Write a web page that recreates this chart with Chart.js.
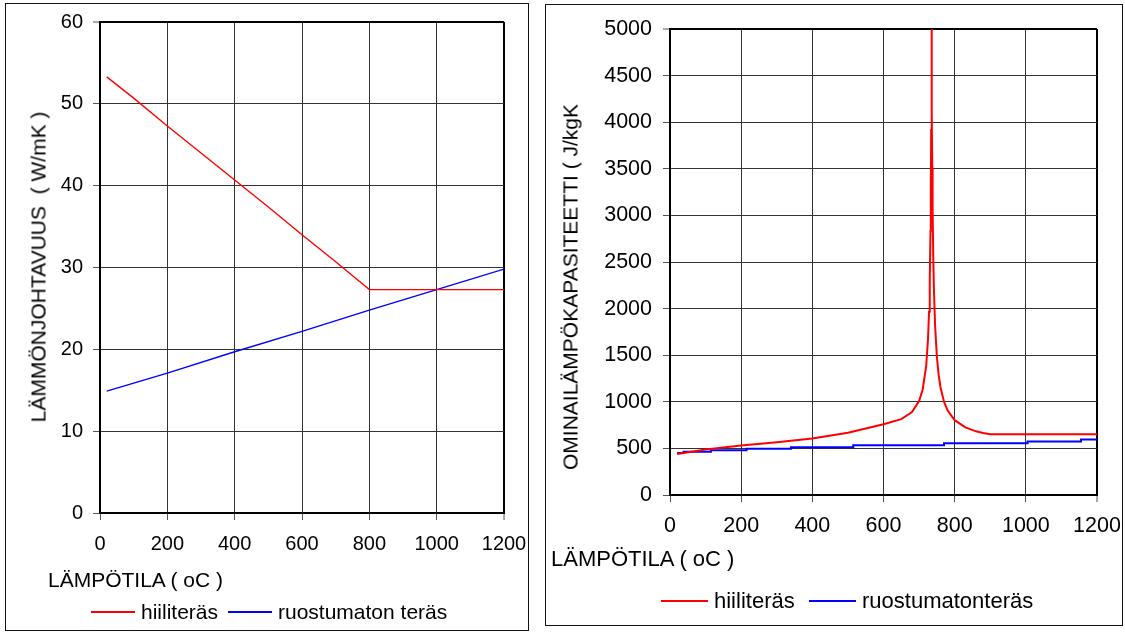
<!DOCTYPE html>
<html><head><meta charset="utf-8">
<script src="https://cdn.jsdelivr.net/npm/chart.js@4.4.1/dist/chart.umd.min.js"></script>
<style>
body{margin:0;background:#fff;width:1125px;height:632px;position:relative;overflow:hidden;font-family:"Liberation Sans",Arial,sans-serif;color:#000}
.panel{position:absolute;border:1px solid #111;box-sizing:border-box}
canvas{position:absolute}
.t{position:absolute;white-space:nowrap;line-height:1}
.rot{transform:translate(-50%,-50%) rotate(-90deg)}
.lg{position:absolute}
</style></head><body>
<div class="panel" style="left:5px;top:3px;width:524px;height:628px"></div>
<div class="panel" style="left:545px;top:4px;width:578px;height:622px"></div>
<canvas id="c1" width="540" height="632" style="left:0;top:0"></canvas>
<canvas id="c2" width="585" height="632" style="left:540px;top:0"></canvas>

<div class="t rot" style="left:38px;top:267px;font-size:21px">LÄMMÖNJOHTAVUUS&nbsp; ( W/mK )</div>
<div class="t" style="left:48px;top:569px;font-size:21px">LÄMPÖTILA ( oC )</div>
<div class="lg" style="left:91px;top:611px;width:44px;height:1.5px;background:#f00"></div>
<div class="t" style="left:141px;top:601px;font-size:21px">hiiliteräs</div>
<div class="lg" style="left:228px;top:611px;width:44px;height:1.5px;background:#00f"></div>
<div class="t" style="left:278px;top:601px;font-size:21px">ruostumaton teräs</div>

<div class="t rot" style="left:570px;top:287px;font-size:21px">OMINAILÄMPÖKAPASITEETTI ( J/kgK</div>
<div class="t" style="left:551px;top:548px;font-size:22px">LÄMPÖTILA ( oC )</div>
<div class="lg" style="left:661px;top:600px;width:47px;height:2px;background:#f00"></div>
<div class="t" style="left:714px;top:590px;font-size:22px">hiiliteräs</div>
<div class="lg" style="left:809px;top:600px;width:47px;height:2px;background:#00f"></div>
<div class="t" style="left:862px;top:590px;font-size:22px">ruostumatonteräs</div>

<script>
// ---- Chart 1: thermal conductivity (W/mK) ----
const condTempCarbon = [20, 100, 200, 300, 400, 500, 600, 700, 800, 1200];
const condCarbon     = [53.3, 50.7, 47.3, 44.0, 40.7, 37.4, 34.0, 30.7, 27.3, 27.3];
const condTempStainless = [20, 200, 400, 600, 800, 1000, 1200];
const condStainless     = [14.9, 17.1, 19.7, 22.2, 24.8, 27.3, 29.8];
const condXTicks = [0, 200, 400, 600, 800, 1000, 1200];
const condYTicks = [0, 10, 20, 30, 40, 50, 60];

// ---- Chart 2: specific heat (J/kgK) ----
const heatTempCarbon = [20, 100, 200, 300, 400, 500, 600, 650, 680, 700, 710, 720, 725, 728, 730, 732, 733, 734, 735, 736, 737, 738, 740, 742, 745, 750, 755, 760, 770, 780, 800, 830, 860, 880, 900, 1200];
const heatCarbon     = [440, 488, 530, 565, 606, 667, 760, 814, 890, 1008, 1130, 1388, 1666, 1966, 2291, 2833, 3266, 3916, 5000, 4100, 3515, 3091, 2525, 2165, 1818, 1483, 1288, 1159, 1002, 909, 803, 725, 683, 665, 652, 652];
const heatTempStainless = [20, 38, 115, 215, 340, 515, 770, 1005, 1155, 1200];
const heatStainless     = [450, 465, 480, 497, 512, 535, 555, 573, 595, 595];
const heatXTicks = [0, 200, 400, 600, 800, 1000, 1200];
const heatYTicks = [0, 500, 1000, 1500, 2000, 2500, 3000, 3500, 4000, 4500, 5000];

const FONT = '"Liberation Sans", Arial, sans-serif';
const pts = (xs, ys) => xs.map((x, i) => ({x, y: ys[i]}));

function makeChart(id, cfg) {
  const xMax = cfg.xTicks[cfg.xTicks.length - 1];
  const yMax = cfg.yTicks[cfg.yTicks.length - 1];
  const gridW = (c, max) => (c.tick && c.tick.value === max ? 2 : 1);
  const gridC = (c, max) => (c.tick && c.tick.value === max ? '#000' : '#333');
  return new Chart(document.getElementById(id), {
    type: 'line',
    data: { datasets: cfg.datasets },
    options: {
      responsive: false, animation: false, devicePixelRatio: 1,
      layout: { padding: cfg.padding },
      plugins: { legend: { display: false }, tooltip: { enabled: false } },
      elements: { point: { radius: 0 }, line: { tension: 0 } },
      scales: {
        x: {
          type: 'linear', min: 0, max: xMax,
          afterBuildTicks: s => { s.ticks = cfg.xTicks.map(v => ({value: v})); },
          afterFit: s => { s.height = cfg.xAxisH; s.paddingLeft = 0; s.paddingRight = 0; },
          ticks: { callback: v => String(v), color: '#000', font: {family: FONT, size: cfg.tickSize}, padding: cfg.xPad, maxRotation: 0 },
          grid: { color: c => gridC(c, xMax), lineWidth: c => gridW(c, xMax), tickLength: 7, tickColor: '#555', tickWidth: 1 },
          border: { color: '#000', width: 2 }
        },
        y: {
          type: 'linear', min: 0, max: yMax,
          afterBuildTicks: s => { s.ticks = cfg.yTicks.map(v => ({value: v})); },
          afterFit: s => { s.width = cfg.yAxisW; s.paddingTop = 0; s.paddingBottom = 0; },
          ticks: { callback: v => String(v), color: '#000', font: {family: FONT, size: cfg.tickSize}, padding: cfg.yPad },
          grid: { color: c => gridC(c, yMax), lineWidth: c => gridW(c, yMax), tickLength: 7, tickColor: '#555', tickWidth: 1 },
          border: { color: '#000', width: 2 }
        }
      }
    }
  });
}

makeChart('c1', {
  xTicks: condXTicks, yTicks: condYTicks,
  padding: {left: 0, top: 22, right: 36, bottom: 0},
  xAxisH: 119, yAxisW: 100, tickSize: 20, xPad: 12, yPad: 10,
  datasets: [
    {label: 'hiiliteräs', data: pts(condTempCarbon, condCarbon), borderColor: '#ff0000', borderWidth: 1.4},
    {label: 'ruostumaton teräs', data: pts(condTempStainless, condStainless), borderColor: '#0000ff', borderWidth: 1.4}
  ]
});

makeChart('c2', {
  xTicks: heatXTicks, yTicks: heatYTicks,
  padding: {left: 0, top: 29, right: 28, bottom: 0},
  xAxisH: 137, yAxisW: 130, tickSize: 21.5, xPad: 11, yPad: 11,
  datasets: [
    {label: 'hiiliteräs', data: pts(heatTempCarbon, heatCarbon), borderColor: '#ff0000', borderWidth: 2},
    {label: 'ruostumatonteräs', data: pts(heatTempStainless, heatStainless), borderColor: '#0000ff', borderWidth: 2, stepped: true}
  ]
});
</script>
</body></html>
